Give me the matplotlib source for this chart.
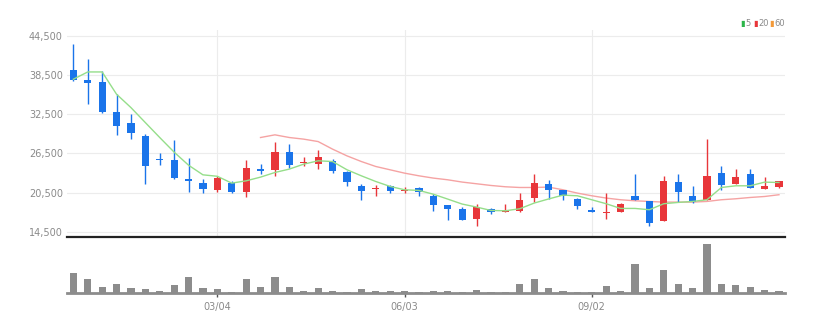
import matplotlib
matplotlib.use('Agg')
import matplotlib.pyplot as plt

plt.rcParams['font.family'] = ['Liberation Sans Narrow', 'DejaVu Sans']

# weekly candles (index 0..49)
opens = [39250, 37750, 37500, 32800, 31150, 29150, 25700, 25550, 22550, 22000,
         20850, 21900, 20650, 24100, 23900, 26700, 25050, 24900, 25300, 23600,
         21500, 21000, 21500, 20800, 21200, 19900, 18550, 17950, 16450, 18000,
         17550, 17750, 19650, 21850, 20850, 19550, 17850, 17300, 17550, 19950,
         19150, 16200, 22150, 19900, 19300, 23500, 21800, 23350, 21100, 21400]
highs = [43200, 41000, 39150, 35600, 32500, 29550, 26600, 28550, 25800, 22550,
         23050, 22200, 25500, 24850, 28300, 28000, 25950, 26950, 25650, 23750,
         21800, 21700, 21650, 21300, 21300, 20250, 18650, 18350, 18750, 18150,
         18800, 20400, 23350, 22450, 20900, 19650, 18350, 20400, 18950, 23400,
         19250, 23100, 23400, 21450, 28700, 24500, 24100, 24100, 22950, 22300]
lows = [37600, 34050, 32650, 29350, 28750, 21850, 24700, 22550, 20650, 20400,
        20600, 20400, 19750, 23400, 23050, 24300, 24600, 24150, 23500, 21450,
        19300, 20050, 20450, 20450, 19900, 17700, 16250, 16350, 15400, 17150,
        17500, 17450, 19100, 19550, 19300, 18000, 17550, 16450, 17450, 19350,
        15400, 16200, 19050, 18900, 19300, 20950, 21800, 21200, 21100, 21150]
closes = [37700, 37250, 32800, 30700, 29600, 24600, 25450, 22700, 22300, 21050,
          22700, 20550, 24200, 23750, 26700, 24750, 25250, 25950, 23800, 22150,
          20800, 21150, 20800, 20950, 20600, 18600, 18050, 16350, 18250, 17450,
          17850, 19350, 21900, 20850, 19950, 18500, 17550, 17450, 18800, 19350,
          15850, 22350, 20650, 19000, 23100, 21600, 22850, 21250, 21450, 22300]
volumes = [60, 42, 19, 29, 15, 12, 6, 24, 48, 16, 12, 5, 43, 19, 48, 19, 7, 15, 7, 5,
           12, 6, 6, 6, 3, 7, 7, 5, 10, 3, 5, 29, 43, 15, 6, 5, 5, 21, 7, 88,
           16, 70, 29, 16, 147, 29, 26, 20, 11, 6]

ma5 = [37870, 38990, 38990, 35580, 33530, 31230, 28940, 26700, 24700, 23220,
       23000, 21950, 22300, 22870, 23580, 24100, 24860, 25370, 25260, 24000,
       23070, 22200, 21440, 20930, 20830, 20250, 19500, 18740, 18280, 17760,
       17710, 18020, 18890, 19520, 20110, 20010, 19400, 18790, 18070, 18070,
       17870, 18790, 18990, 19140, 19400, 21280, 21540, 21540, 22100, 22050]
ma20_start = 13
ma20 = [28940, 29350, 28940, 28690, 28320, 27160, 26130, 25260, 24500, 23990,
        23480, 23070, 22720, 22460, 22110, 21850, 21590, 21390, 21280, 21280,
        21340, 20930, 20420, 20010, 19660, 19400, 19240, 19140, 19040, 19040,
        19040, 19140, 19400, 19550, 19750, 19900, 20170]

y_ticks = [14500, 20500, 26500, 32500, 38500, 44500]
tick_pos = [10, 23, 36]
tick_labels = ['03/04', '06/03', '09/02']

UP = '#e8363a'
DOWN = '#1a74ea'
GRID = '#ececec'
TXT = '#8a8a8a'

fig = plt.figure(figsize=(8.3, 3.3), dpi=100)
ax = fig.add_axes([0.0807, 0.2818, 0.8651, 0.6273])
vax = fig.add_axes([0.0807, 0.1112, 0.8651, 0.1615], sharex=ax)

n = len(closes)
idx = list(range(n))
colors = [UP if closes[i] >= opens[i] else DOWN for i in idx]
bottoms = [min(opens[i], closes[i]) for i in idx]
heights = [max(abs(closes[i] - opens[i]), 150) for i in idx]

ax.vlines(idx, lows, highs, colors=colors, linewidth=1, zorder=3)
ax.bar(idx, heights, bottom=bottoms, width=0.5, color=colors, zorder=4)
ax.plot(idx, ma5, color='#95de8a', lw=1, zorder=5)
ax.plot(list(range(ma20_start, n)), ma20, color='#f5a3a3', lw=1, zorder=2)

ax.set_xlim(-0.44, 49.42)
ax.set_ylim(13690, 45420)
ax.set_yticks(y_ticks)
ax.set_yticklabels(['{:,}'.format(v) for v in y_ticks])
ax.tick_params(axis='y', length=0, labelsize=7, colors=TXT, pad=3)
ax.tick_params(axis='x', length=0, labelbottom=False)
ax.set_xticks(tick_pos)
ax.grid(True, color=GRID, lw=0.8, zorder=0)
for s in ['top', 'left', 'right']:
    ax.spines[s].set_visible(False)
ax.spines['bottom'].set_color('#222222')
ax.spines['bottom'].set_linewidth(1.6)

vax.bar(idx, volumes, width=0.5, color='#8c8c8c', zorder=3)
vax.set_ylim(0, 160)
vax.set_yticks([])
vax.set_xticks(tick_pos)
vax.set_xticklabels(tick_labels)
vax.tick_params(axis='x', length=3, width=1, color='#555555', labelsize=7,
                labelcolor=TXT, pad=3)
for s in ['top', 'left', 'right']:
    vax.spines[s].set_visible(False)
vax.spines['bottom'].set_color('#8c8c8c')
vax.spines['bottom'].set_linewidth(2)

# legend top right
leg_labels = ['5', '20', '60']
leg_colors = ['#2db54a', '#e8363a', '#f39a3a']
leg_x = [740, 753, 769]
for lab, col, px in zip(leg_labels, leg_colors, leg_x):
    fig.text(px / 830, 0.928, '\u25ae', color=col, fontsize=6, family='DejaVu Sans',
             va='center', ha='left')
    fig.text((px + 5) / 830, 0.928, lab, color=TXT, fontsize=6, va='center', ha='left')

fig.savefig('out.png', dpi=100)
